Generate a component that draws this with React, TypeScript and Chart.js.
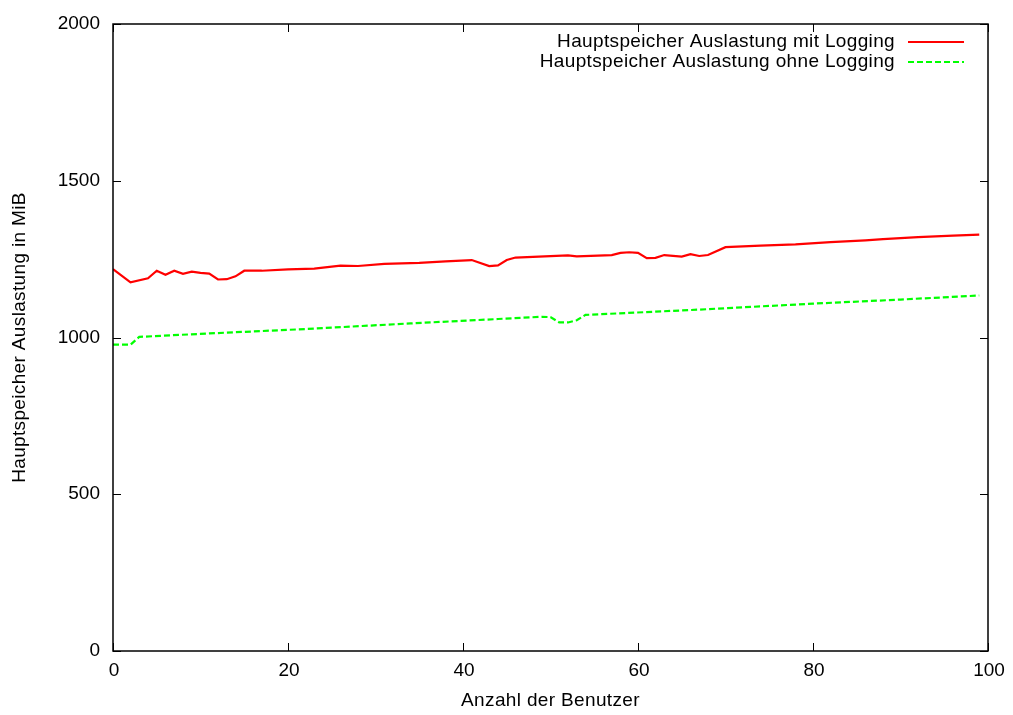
import React, { useEffect, useRef } from "react";
import { Chart, registerables } from "chart.js";

Chart.register(...registerables);

const seriesMitLabel = "Hauptspeicher Auslastung mit Logging";
const seriesOhneLabel = "Hauptspeicher Auslastung ohne Logging";

const mitX = [0, 2, 4, 5, 6, 7, 8, 9, 10, 11, 12, 13, 14, 15, 17, 20, 23, 26, 28, 31, 35, 38, 41, 43, 44, 45, 46, 52, 53, 57, 58, 59, 60, 61, 62, 63, 65, 66, 67, 68, 70, 74, 78, 82, 86, 88, 92, 96, 99];
const mitY = [1218, 1176, 1189, 1213, 1200, 1213, 1203, 1210, 1206, 1204, 1185, 1186, 1195, 1213, 1213, 1217, 1220, 1229, 1228, 1235, 1238, 1243, 1247, 1228, 1230, 1247, 1255, 1262, 1259, 1263, 1270, 1272, 1270, 1253, 1254, 1263, 1258, 1266, 1260, 1263, 1288, 1293, 1297, 1304, 1310, 1314, 1320, 1325, 1328];

const ohneX = [0, 2, 3, 11, 22, 34, 44, 49, 50, 51, 52, 53, 54, 67, 80, 90, 99];
const ohneY = [977, 977, 1002, 1013, 1027, 1045, 1059, 1066, 1065, 1048, 1048, 1055, 1072, 1089, 1108, 1121, 1134];

const xTicks = [0, 20, 40, 60, 80, 100];
const yTicks = [0, 500, 1000, 1500, 2000];

const xTitle = "Anzahl der Benutzer";
const yTitle = "Hauptspeicher Auslastung in MiB";

const FONT = "19px 'Liberation Sans', Arial, sans-serif";

const framePlugin = {
  id: "gnuframe",
  afterDatasetsDraw(chart: any) {
    const { ctx, chartArea, scales } = chart;
    const { left, right, top, bottom } = chartArea;
    const xs = scales.x;
    const ys = scales.y;
    ctx.save();
    ctx.strokeStyle = "#000";
    ctx.lineWidth = 1;
    const T = 8;
    ctx.beginPath();
    xTicks.forEach((v) => {
      const px = Math.round(xs.getPixelForValue(v)) + 0.5;
      ctx.moveTo(px, bottom);
      ctx.lineTo(px, bottom - T);
      ctx.moveTo(px, top);
      ctx.lineTo(px, top + T);
    });
    yTicks.forEach((v) => {
      const py = Math.round(ys.getPixelForValue(v)) + 0.5;
      ctx.moveTo(left, py);
      ctx.lineTo(left + T, py);
      ctx.moveTo(right, py);
      ctx.lineTo(right - T, py);
    });
    ctx.stroke();
    ctx.lineWidth = 1.5;
    ctx.strokeRect(left, top, right - left, bottom - top);
    ctx.fillStyle = "#000";
    ctx.font = FONT;
    ctx.textBaseline = "middle";
    (ctx as any).letterSpacing = "0px";
    ctx.textAlign = "center";
    xTicks.forEach((v) => {
      ctx.fillText(String(v), xs.getPixelForValue(v) + 1, bottom + 20);
    });
    ctx.textAlign = "right";
    yTicks.forEach((v) => {
      ctx.fillText(String(v), left - 13, ys.getPixelForValue(v));
    });
    (ctx as any).letterSpacing = "0.35px";
    ctx.textAlign = "center";
    ctx.fillText(xTitle, (left + right) / 2, bottom + 50);
    ctx.save();
    ctx.translate(20, (top + bottom) / 2);
    ctx.rotate(-Math.PI / 2);
    ctx.fillText(yTitle, 0, 0);
    ctx.restore();
    const entries = [
      { label: seriesMitLabel, color: "#ff0000", dash: [] as number[] },
      { label: seriesOhneLabel, color: "#00ff00", dash: [6, 3] },
    ];
    entries.forEach((e, i) => {
      const y = top + 18 + i * 20;
      ctx.textAlign = "right";
      ctx.fillStyle = "#000";
      ctx.fillText(e.label, right - 93, y);
      ctx.beginPath();
      ctx.setLineDash(e.dash);
      ctx.strokeStyle = e.color;
      ctx.lineWidth = 2;
      ctx.moveTo(right - 80, y);
      ctx.lineTo(right - 24, y);
      ctx.stroke();
      ctx.setLineDash([]);
    });
    ctx.restore();
  },
};

export default function App() {
  const ref = useRef<HTMLCanvasElement | null>(null);
  useEffect(() => {
    if (!ref.current) return;
    const chart = new Chart(ref.current, {
      type: "line",
      data: {
        datasets: [
          {
            label: seriesMitLabel,
            data: mitX.map((x, i) => ({ x, y: mitY[i] })),
            borderColor: "#ff0000",
            borderWidth: 2.2,
            pointRadius: 0,
            tension: 0,
            fill: false,
          },
          {
            label: seriesOhneLabel,
            data: ohneX.map((x, i) => ({ x, y: ohneY[i] })),
            borderColor: "#00ff00",
            borderWidth: 2.2,
            borderDash: [6, 3],
            pointRadius: 0,
            tension: 0,
            fill: false,
          },
        ],
      },
      options: {
        responsive: false,
        animation: false,
        layout: { padding: { left: 113, top: 24, right: 25, bottom: 64 } },
        plugins: { legend: { display: false }, tooltip: { enabled: false } },
        scales: {
          x: { type: "linear", min: 0, max: 100, display: false },
          y: { type: "linear", min: 0, max: 2000, display: false },
        },
      },
      plugins: [framePlugin],
    });
    return () => chart.destroy();
  }, []);
  return (
    <div style={{ position: "absolute", left: 0, top: 0, width: 1013, height: 715, background: "#fff" }}>
      <canvas ref={ref} width={1013} height={715} />
    </div>
  );
}
